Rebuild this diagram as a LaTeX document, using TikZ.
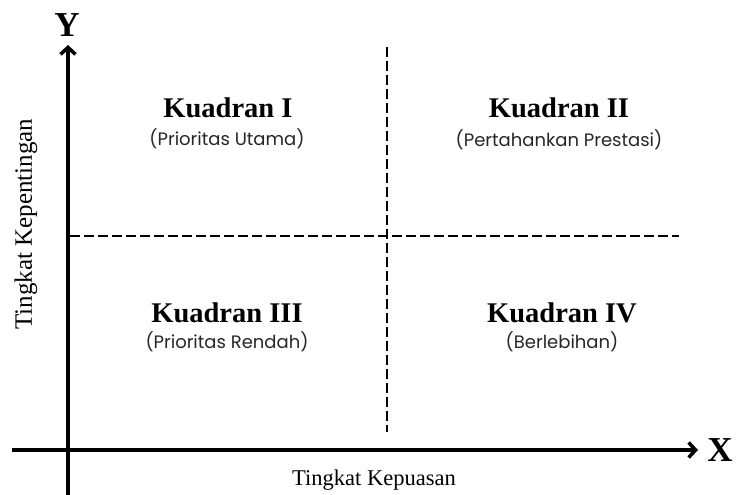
\documentclass[tikz,border=0pt]{standalone}
\usepackage{fontspec}
\setmainfont{Liberation Serif}
\newfontfamily\subfont{Poppins}
\usetikzlibrary{arrows.meta}
\tikzset{
  axis/.style={line width=4pt,-{Straight Barb[length=7pt,width=15pt,line width=3.5pt]}},
  divider/.style={line width=2.2pt,dash pattern=on 10pt off 4pt},
  title/.style={font=\fontsize{28.5}{30}\selectfont\bfseries,inner sep=0pt},
  sub/.style={font=\subfont\fontsize{18}{20}\selectfont,inner sep=0pt,text=black!85},
  axislabel/.style={font=\fontsize{22.5}{24}\selectfont,inner sep=0pt},
  axisletter/.style={font=\fontsize{35}{37}\selectfont\bfseries,inner sep=0pt}
}
\begin{document}
\begin{tikzpicture}[x=1pt,y=-1pt]
\useasboundingbox (0,0) rectangle (737,495);
% axes endpoints
\coordinate (ybot) at (68,495);
\coordinate (ytop) at (68,45);
\coordinate (xleft) at (12,450);
\coordinate (xright) at (698,450);
\draw[axis] (ybot) -- (ytop);
\draw[axis] (xleft) -- (xright);
\node[axisletter] (Y) at (67,25) {Y};
\node[axisletter] (X) at (720,450) {X};
% dividers
\coordinate (vtop) at (387,47);
\coordinate (vbot) at (387,432);
\coordinate (hleft) at (70,236);
\coordinate (hright) at (679,236);
\draw[divider] (vtop) -- (vbot);
\draw[divider] (hleft) -- (hright);
% quadrant texts
\node[title] (q1) at (228,108) {Kuadran I};
\node[sub] (q1s) at (227,139) {(Prioritas Utama)};
\node[title] (q2) at (559,108) {Kuadran II};
\node[sub] (q2s) at (559,140) {(Pertahankan Prestasi)};
\node[title] (q3) at (227,313) {Kuadran III};
\node[sub] (q3s) at (227,342) {(Prioritas Rendah)};
\node[title] (q4) at (562,313) {Kuadran IV};
\node[sub] (q4s) at (562,342) {(Berlebihan)};
% axis labels
\node[axislabel] (xl) at (374,480) {Tingkat Kepuasan};
\node[axislabel,rotate=90] (yl) at (26,224) {\fontsize{25}{27}\selectfont Tingkat Kepentingan};
\end{tikzpicture}
\end{document}
